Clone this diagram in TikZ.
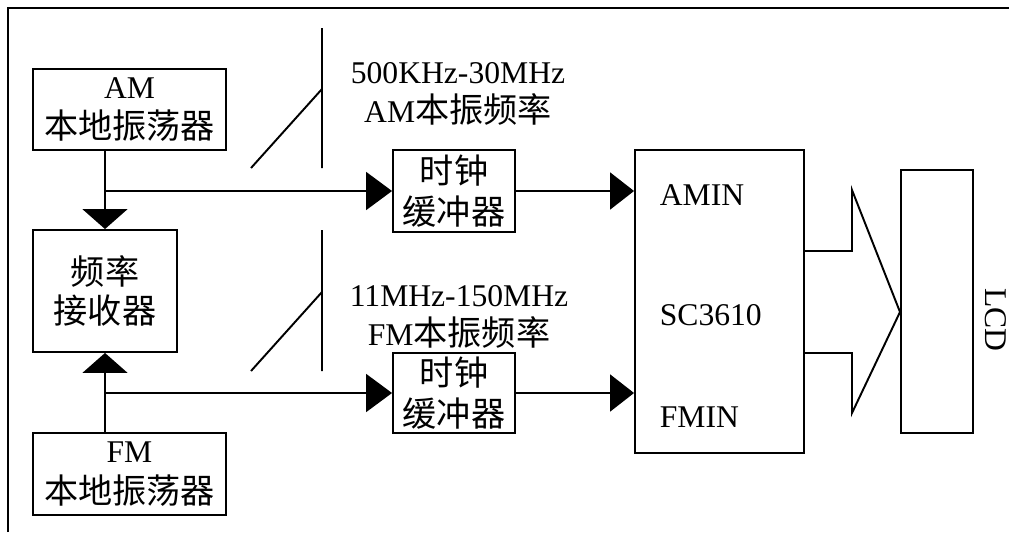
\documentclass[tikz,border=0pt]{standalone}
\usepackage{fontspec}
\setmainfont{Liberation Serif}
\newfontfamily\cjk[Scale=1.08]{Noto Sans CJK SC}
\usetikzlibrary{arrows.meta}

\tikzset{
  blk/.style={draw, align=center, inner sep=0pt},
  downtip/.style={-{Triangle[length=0.4cm,width=0.9cm]}},
  intip/.style={-{Triangle[length=0.52cm,width=0.76cm]}},
  chiptip/.style={-{Triangle[length=0.48cm,width=0.74cm]}}
}

\begin{document}
\begin{tikzpicture}[x=0.02cm,y=-0.02cm,line width=1.1pt,font=\fontsize{18}{20}\selectfont]
\useasboundingbox (0,0) rectangle (1009,532);
\draw (8,532) -- (8,8) -- (1009,8);

\node[blk,minimum width=3.86cm,minimum height=1.62cm] (amosc) at (129.5,109.5) {AM\\[3pt]{\cjk 本地振荡器}};
\node[blk,minimum width=2.88cm,minimum height=2.44cm] (recv) at (105,291) {{\cjk 频率}\\[2pt]{\cjk 接收器}};
\node[blk,minimum width=3.86cm,minimum height=1.64cm] (fmosc) at (129.5,474) {FM\\[3pt]{\cjk 本地振荡器}};

\node[blk,minimum width=2.44cm,minimum height=1.64cm] (buf1) at (454,191) {{\cjk 时钟}\\[3pt]{\cjk 缓冲器}};
\node[blk,minimum width=2.44cm,minimum height=1.6cm] (buf2) at (454,393) {{\cjk 时钟}\\[3pt]{\cjk 缓冲器}};

\node[align=center] (amlbl) at (458,94) {500KHz-30MHz\\[2pt]AM{\cjk 本振频率}};
\node[align=center] (fmlbl) at (459,317) {11MHz-150MHz\\[2pt]FM{\cjk 本振频率}};

\node[blk,minimum width=3.38cm,minimum height=6.06cm] (chip) at (719.5,301.5) {};
\node[anchor=west] (amin) at (653,195) {AMIN};
\node[anchor=west] (sc) at (653,315) {SC3610};
\node[anchor=west] (fmin) at (653,417) {FMIN};

\node[blk,minimum width=1.44cm,minimum height=5.26cm] (lcd) at (937,301.5) {};
\node[rotate=-90] (lcdlbl) at (996,320) {LCD};

\draw
(322,28) -- (322,168)
(251,168) -- (322,89);
\draw
(322,230) -- (322,371)
(251,371) -- (322,292);

\draw[downtip] (amosc.south -| recv.north) -- (recv.north);
\draw[downtip] (fmosc.north -| recv.south) -- (recv.south);
\draw[intip] (recv.north |- buf1.west) -- (buf1.west);
\draw[intip] (recv.south |- buf2.west) -- (buf2.west);
\draw[chiptip] (buf1.east) -- (buf1.east -| chip.west);
\draw[chiptip] (buf2.east) -- (buf2.east -| chip.west);

\draw
(804,251) -- (852,251) -- (852,190) -- (900,312) -- (852,413) -- (852,353) -- (804,353);
\end{tikzpicture}
\end{document}
